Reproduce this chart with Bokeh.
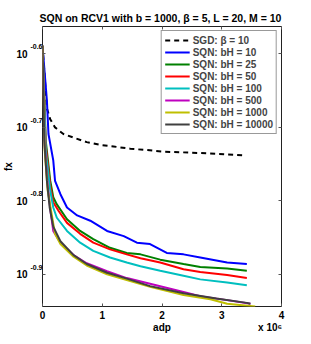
from bokeh.plotting import figure
from bokeh.models import LinearAxis, LogAxis, FixedTicker, Range1d, Legend, LegendItem
from bokeh.embed import file_html
from bokeh.resources import INLINE

FONT = "Liberation Sans"

# adp in units of 1e6, fx values
sgd_x = [0.0, 0.074, 0.129, 0.21, 0.24, 0.35, 0.52, 0.74, 0.97, 1.19, 1.47, 1.75, 2.03, 2.64, 3.36]
sgd_fx = [0.2576, 0.2118, 0.2047, 0.1995, 0.1986, 0.1954, 0.1932, 0.1905, 0.1888, 0.1879, 0.1866, 0.1858, 0.1849, 0.1841, 0.1828]

bh10_x = [0.0, 0.074, 0.10, 0.18, 0.21, 0.30, 0.41, 0.58, 0.80, 1.08, 1.36, 1.58, 1.80, 2.08, 2.36, 2.64, 3.09, 3.42]
bh10_fx = [0.2576, 0.2168, 0.1954, 0.1799, 0.1687, 0.1618, 0.1552, 0.1514, 0.1489, 0.1442, 0.1419, 0.1390, 0.1384, 0.1346, 0.1340, 0.1327, 0.1306, 0.1300]

bh25_x = [0.0, 0.054, 0.13, 0.18, 0.24, 0.41, 0.63, 0.85, 1.13, 1.41, 1.64, 1.97, 2.36, 2.64, 3.09, 3.42]
bh25_fx = [0.2576, 0.1914, 0.1687, 0.1603, 0.1567, 0.1496, 0.1442, 0.1406, 0.1368, 0.1346, 0.1340, 0.1318, 0.1300, 0.1288, 0.1282, 0.1273]

bh50_x = [0.0, 0.054, 0.13, 0.18, 0.27, 0.41, 0.63, 0.85, 1.13, 1.41, 1.64, 1.97, 2.36, 2.64, 3.09, 3.42]
bh50_fx = [0.2576, 0.1884, 0.1660, 0.1578, 0.1535, 0.1479, 0.1429, 0.1390, 0.1361, 0.1340, 0.1324, 0.1306, 0.1279, 0.1268, 0.1256, 0.1244]

bh100_x = [0.0, 0.054, 0.13, 0.18, 0.24, 0.41, 0.63, 0.85, 1.13, 1.41, 1.64, 1.97, 2.36, 2.64, 3.09, 3.42]
bh100_fx = [0.2576, 0.1854, 0.1637, 0.1552, 0.1503, 0.1442, 0.1390, 0.1355, 0.1327, 0.1306, 0.1291, 0.1273, 0.1253, 0.1239, 0.1227, 0.1216]

bh500_x = [0.0, 0.037, 0.087, 0.137, 0.18, 0.30, 0.52, 0.74, 1.08, 1.41, 1.80, 2.36, 2.64, 3.09, 3.48]
bh500_fx = [0.2576, 0.1884, 0.1660, 0.1528, 0.1442, 0.1390, 0.1337, 0.1303, 0.1271, 0.1244, 0.1222, 0.1191, 0.1175, 0.1161, 0.1148]

bh1000_x = [0.0, 0.037, 0.087, 0.157, 0.21, 0.30, 0.52, 0.74, 1.08, 1.41, 1.80, 2.36, 2.81, 3.09, 3.56]
bh1000_fx = [0.2576, 0.1854, 0.1637, 0.1514, 0.1429, 0.1384, 0.1330, 0.1294, 0.1259, 0.1236, 0.1211, 0.1180, 0.1164, 0.1148, 0.1138]

bh10000_x = [0.0, 0.03, 0.074, 0.12, 0.18, 0.30, 0.52, 0.74, 1.08, 1.41, 1.80, 2.36, 2.91, 3.42, 3.48]
bh10000_fx = [0.2576, 0.1914, 0.1687, 0.1552, 0.1462, 0.1396, 0.1337, 0.1300, 0.1265, 0.1242, 0.1213, 0.1186, 0.1167, 0.1151, 0.1148]

x_ticks = [0, 1, 2, 3, 4]
x_tick_labels = ["0", "1", "2", "3", "4"]
y_ticks = [0.25119, 0.19953, 0.15849, 0.12589]
y_tick_base = ["10", "10", "10", "10"]
y_tick_exps = ["-0.6", "-0.7", "-0.8", "-0.9"]
x_label_pos = [2.0, 3.81]
x_label_text = ["adp", "x 10\u2076"]

series = [
    ("SQN: bH = 10", bh10_x, bh10_fx, "#0000FF"),
    ("SQN: bH = 25", bh25_x, bh25_fx, "#008000"),
    ("SQN: bH = 50", bh50_x, bh50_fx, "#FF0000"),
    ("SQN: bH = 100", bh100_x, bh100_fx, "#00BFBF"),
    ("SQN: bH = 500", bh500_x, bh500_fx, "#BF00BF"),
    ("SQN: bH = 1000", bh1000_x, bh1000_fx, "#BFBF00"),
    ("SQN: bH = 10000", bh10000_x, bh10000_fx, "#404040"),
]

Y0, Y1 = 0.1138, 0.2737
SHIFT = 0.97828  # moves exponent labels ~7px above their tick

p = figure(width=303, height=336, x_range=Range1d(0, 4), y_range=Range1d(Y0, Y1),
           y_axis_type="log", output_backend="svg", toolbar_location=None,
           min_border_left=20, min_border_right=22, min_border_top=26, min_border_bottom=30,
           title="SQN on RCV1 with b = 1000,  \u03b2 = 5, L = 20, M = 10")
p.extra_y_ranges = {"exp": Range1d(Y0 * SHIFT, Y1 * SHIFT)}
p.xgrid.visible = False
p.ygrid.visible = False
p.outline_line_color = "#222222"
p.outline_line_width = 1
p.background_fill_color = "white"
p.border_fill_color = "white"

p.title.align = "center"
p.title.text_font = FONT
p.title.text_font_style = "bold"
p.title.text_font_size = "10.5px"
p.title.text_color = "black"
p.title.standoff = 5

TICK = "#555555"


def hide_labels(ax):
    ax.major_label_text_font_size = "0px"
    ax.major_label_text_color = None
    ax.major_label_standoff = 0


def ticks_only(ax):
    ax.major_tick_in = 3
    ax.major_tick_out = 0
    ax.minor_tick_line_color = None
    ax.axis_line_color = None
    ax.major_tick_line_color = TICK


def text_only(ax, size, standoff):
    ax.major_tick_line_color = None
    ax.minor_tick_line_color = None
    ax.axis_line_color = None
    ax.major_tick_in = 0
    ax.major_tick_out = 0
    ax.major_label_standoff = standoff
    ax.major_label_text_font = FONT
    ax.major_label_text_font_style = "bold"
    ax.major_label_text_font_size = size
    ax.major_label_text_color = "black"


# bottom: ticks + numbers
xa = p.xaxis[0]
xa.ticker = FixedTicker(ticks=x_ticks)
xa.major_label_overrides = {t: l for t, l in zip(x_ticks, x_tick_labels)}
ticks_only(xa)
xa.major_label_standoff = 4
xa.major_label_text_font = FONT
xa.major_label_text_font_style = "bold"
xa.major_label_text_font_size = "10px"
xa.major_label_text_color = "black"

# bottom: axis name and multiplier
xl = LinearAxis(ticker=FixedTicker(ticks=x_label_pos),
                major_label_overrides={t: l for t, l in zip(x_label_pos, x_label_text)})
text_only(xl, "10px", 0)
p.add_layout(xl, "below")

# left: ticks
ya = p.yaxis[0]
ya.ticker = FixedTicker(ticks=y_ticks)
ticks_only(ya)
hide_labels(ya)

# left: exponents
ye = LogAxis(y_range_name="exp", ticker=FixedTicker(ticks=y_ticks),
             major_label_overrides={t: l for t, l in zip(y_ticks, y_tick_exps)})
text_only(ye, "7px", 0)
p.add_layout(ye, "left")

# left: bases and axis name
yb = LogAxis(ticker=FixedTicker(ticks=y_ticks),
             major_label_overrides={t: l for t, l in zip(y_ticks, y_tick_base)},
             axis_label="fx")
text_only(yb, "10px", 0)
yb.axis_label_standoff = -1
yb.axis_label_text_font = FONT
yb.axis_label_text_font_style = "bold"
yb.axis_label_text_font_size = "10px"
yb.axis_label_text_color = "black"
p.add_layout(yb, "left")

top = LinearAxis(ticker=FixedTicker(ticks=x_ticks))
ticks_only(top)
hide_labels(top)
p.add_layout(top, "above")
right = LogAxis(ticker=FixedTicker(ticks=y_ticks))
ticks_only(right)
hide_labels(right)
p.add_layout(right, "right")

items = []
r = p.line(sgd_x, sgd_fx, line_color="black", line_width=2, line_dash="5 4")
items.append(LegendItem(label="SGD: \u03b2 = 10", renderers=[r]))
for name, xs, ys, col in series:
    r = p.line(xs, ys, line_color=col, line_width=2)
    items.append(LegendItem(label=name, renderers=[r]))

leg = Legend(items=items, location="top_right")
leg.margin = 4
leg.padding = 3
leg.spacing = 0
leg.label_height = 12
leg.glyph_height = 12
leg.glyph_width = 25
leg.label_standoff = 3
leg.label_text_font = FONT
leg.label_text_font_style = "bold"
leg.label_text_font_size = "10px"
leg.border_line_color = "#333333"
leg.border_line_width = 1
leg.background_fill_alpha = 1
p.add_layout(leg, "center")

open("out.html", "w").write(file_html(p, INLINE))
